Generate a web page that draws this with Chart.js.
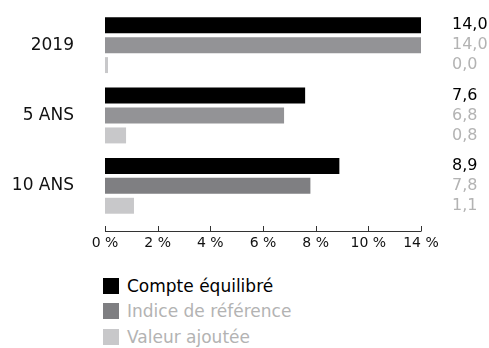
<!DOCTYPE html>
<html lang="fr">
<head>
<meta charset="UTF-8">
<title>Rendements</title>
<script src="https://cdn.jsdelivr.net/npm/chart.js"></script>
<style>
  body { margin: 0; background: #fff; font-family: "DejaVu Sans", sans-serif; }
  #wrap { position: relative; width: 489px; height: 260px; }
  #legend { list-style: none; margin: 0; padding: 0; position: absolute; left: 103px; top: 273px; }
  #legend li { display: flex; align-items: center; height: 25.5px; font-size: 17px; }
  #legend span.box { display: inline-block; width: 16px; height: 16px; margin-right: 8px; }
</style>
</head>
<body>
<div id="wrap"><canvas id="chart" width="489" height="260"></canvas></div>
<ul id="legend"></ul>

<script>
// données
const periodes = ['2019', '5 ANS', '10 ANS'];
const compteEquilibre = [14.0, 7.6, 8.9];
const indiceReference = [14.0, 6.8, 7.8];
const valeurAjoutee = [0.0, 0.8, 1.1];
const graduations = [0, 2, 4, 6, 8, 10, 12];
const etiquettesAxe = ['0 %', '2 %', '4 %', '6 %', '8 %', '10 %', '14 %'];

const series = [
    { label: 'Compte équilibré', data: compteEquilibre, color: '#000000', bars: '#000000', text: '#000000' },
    { label: 'Indice de référence', data: indiceReference, color: '#7f7f82', bars: ['#939396', '#939396', '#7f7f82'], text: '#b3b3b3' },
    { label: 'Valeur ajoutée', data: valeurAjoutee, color: '#c8c8ca', bars: '#c8c8ca', text: '#b3b3b3' },
];

const fmt = v => v.toFixed(1).replace('.', ',');

// libellés des valeurs à droite des barres
const valueLabels = {
    id: 'valueLabels',
    afterDatasetsDraw(chart) {
        const c = chart.ctx;
        c.save();
        c.font = '16px "DejaVu Sans"';
        c.textAlign = 'left';
        c.textBaseline = 'middle';
        chart.data.datasets.forEach((ds, i) => {
            chart.getDatasetMeta(i).data.forEach((bar, j) => {
                c.fillStyle = series[i].text;
                c.fillText(fmt(ds.data[j]), chart.chartArea.right + 31, bar.y);
            });
        });
        c.restore();
    }
};

// axe horizontal décalé sous les barres, graduations vers le haut
const baseline = {
    id: 'baseline',
    afterDraw(chart) {
        const c = chart.ctx;
        const x = chart.scales.x;
        const y = Math.round(chart.chartArea.bottom) + 10;
        c.save();
        c.strokeStyle = '#333';
        c.lineWidth = 1;
        c.beginPath();
        c.moveTo(x.getPixelForValue(0), y + 0.5);
        c.lineTo(x.getPixelForValue(12), y + 0.5);
        graduations.forEach(g => {
            const px = Math.round(x.getPixelForValue(g)) + 0.5;
            c.moveTo(px, y + 0.5);
            c.lineTo(px, y - 5);
        });
        c.stroke();
        c.restore();
    }
};

new Chart(document.getElementById('chart'), {
    type: 'bar',
    data: {
        labels: periodes,
        datasets: series.map(s => ({
            label: s.label,
            data: s.data,
            backgroundColor: s.bars,
            categoryPercentage: 0.85,
            barPercentage: 0.8,
            minBarLength: 3,
            clip: 0,
        })),
    },
    options: {
        indexAxis: 'y',
        responsive: false,
        animation: false,
        layout: { padding: { top: 10, right: 68, left: 0, bottom: 0 } },
        plugins: { legend: { display: false }, tooltip: { enabled: false } },
        scales: {
            x: {
                min: 0,
                max: 12,
                afterBuildTicks: scale => { scale.ticks = graduations.map(v => ({ value: v })); },
                afterFit: scale => { scale.height = 39; },
                grid: { display: false, drawTicks: false },
                border: { display: false },
                ticks: {
                    padding: 14,
                    color: '#111',
                    font: { family: 'DejaVu Sans', size: 14 },
                    callback: (v, i) => etiquettesAxe[i],
                },
            },
            y: {
                afterFit: scale => {
                    scale.width = 105;
                    scale.paddingTop = 0;
                    scale.paddingBottom = 0;
                },
                grid: { display: false, drawTicks: false },
                border: { display: false },
                ticks: {
                    padding: 31,
                    color: '#111',
                    font: { family: 'DejaVu Sans', size: 17 },
                },
            },
        },
    },
    plugins: [valueLabels, baseline],
});

// légende en HTML
const legend = document.getElementById('legend');
series.forEach((s, i) => {
    const li = document.createElement('li');
    li.innerHTML = `<span class="box" style="background:${s.color}"></span><span style="color:${i === 0 ? '#000' : '#b3b3b3'}">${s.label}</span>`;
    legend.appendChild(li);
});
</script>
</body>
</html>
